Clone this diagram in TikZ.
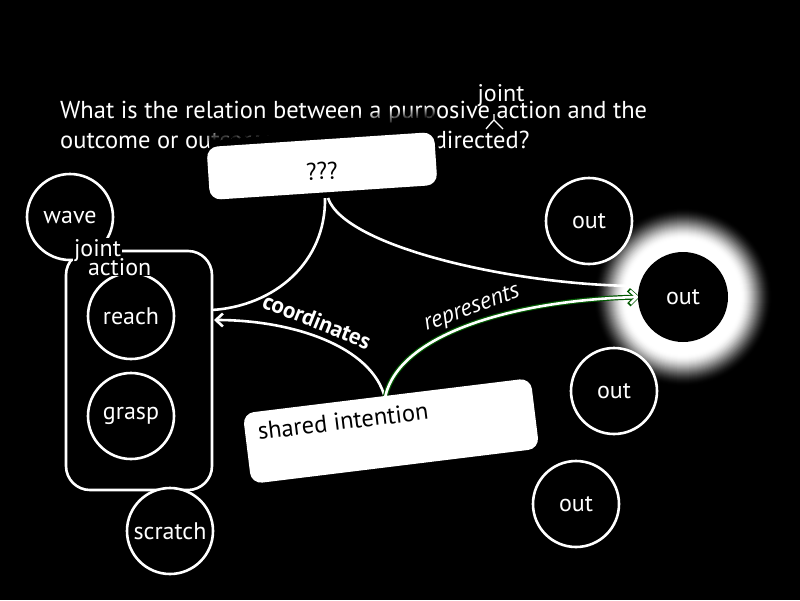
\documentclass[tikz,border=0pt]{standalone}
\usepackage{fontspec}
\setmainfont{PT Sans}
\usetikzlibrary{arrows.meta}
\tikzset{
  txt/.style={text=white, inner sep=0pt, font=\fontsize{24.5}{28}\selectfont},
  circ/.style={circle, draw=white, line width=2.6pt, fill=black, text=white,
    minimum size=86pt, inner sep=0pt, font=\fontsize{24}{28}\selectfont},
  card/.style={fill=white, rounded corners=11pt, inner sep=0pt},
  link/.style={draw=white, line width=2.6pt},
  tip/.style={-{Straight Barb[length=7pt,width=13pt,line width=2.6pt]}},
  lbl/.style={text=white, inner sep=0pt},
  tag/.style={fill=black, text=white, inner sep=0.8pt, font=\fontsize{24}{28}\selectfont},
}
\begin{document}
\begin{tikzpicture}[x=1pt,y=-1pt]
\fill[black] (0,0) rectangle (800,600);
\useasboundingbox (0,0) rectangle (800,600);

% question
\node[txt, anchor=base west] (q1) at (60,118) {What is the relation between a purposive action and the};
\node[txt, anchor=base west] (q2) at (60,148) {outcome or outcomes to which it is directed?};
\node[txt, anchor=base, font=\fontsize{24}{28}\selectfont] (jw) at (501,101) {joint};
\draw[white, line width=1.3pt] (494,114) -- (494,120)
  (486,129) .. controls (491,123) .. (494,120) .. controls (497,123) .. (503,129);

% soft dark band fading the question above the ??? card
\begin{scope}[shift={(322,166)}, rotate=6]
  \foreach \k in {0,...,11} {
    \pgfmathsetmacro\op{(\k+1)/12}
    \fill[black, fill opacity=\op] (-110,-48+\k) rectangle (118,-47+\k);
  }
  \fill[black] (-110,-36.2) rectangle (118,0);
\end{scope}

% glow behind the highlighted outcome
\foreach \r in {90,89,...,46} {
  \pgfmathsetmacro\t{min(1,(90-\r)/32)}
  \pgfmathsetmacro\p{100*\t*\t*(3-2*\t)}
  \fill[white!\p!black] (683,297) circle[radius=\r pt];
}

% connectors
\coordinate (qa) at (325,198);
\coordinate (qb) at (328,198);
\coordinate (sa) at (385,398);
\coordinate (jr) at (212,310);
\coordinate (ja) at (214,320);
\draw[link] (qa) .. controls (326,262) and (275,306) .. (jr);
\draw[link] (qb) .. controls (345,248) and (520,286) .. (640,286);
\draw[link, tip] (sa) .. controls (372,346) and (292,320) .. (ja);
\draw[draw=green!35!black, line width=5pt, -{Straight Barb[length=8pt,width=15pt,line width=4.6pt]}]
  (sa) .. controls (398,332) and (520,300) .. (640,297);
\draw[link, tip] (sa) .. controls (398,332) and (520,300) .. (639,297);

\node[lbl, rotate=-22, font=\fontsize{23}{26}\selectfont\bfseries] (lc) at (317,321) {coordinates};
\node[lbl, rotate=20, font=\fontsize{24}{28}\selectfont\itshape] (lr) at (472,309) {represents};

% cards
\node[card, rotate=3.8, minimum width=228pt, minimum height=53pt] (qq) at (322,166) {};
\node[text=black, rotate=3.8, font=\fontsize{24}{28}\selectfont] (qt) at (322,171) {???};
\node[card, rotate=7, minimum width=290pt, minimum height=71pt] (si) at (391,431) {};
\node[text=black, rotate=7, font=\fontsize{24.5}{28}\selectfont, inner sep=0pt] (st) at (343,421) {shared intention};

% joint action group
\node[draw=white, line width=2.6pt, rounded corners=24pt, minimum width=146pt,
  minimum height=239pt] (ja-box) at (139,370.5) {};

% actions
\node[circ] (wave) at (70,217) {wave};
\node[circ] (reach) at (131,316) {reach};
\node[circ] (grasp) at (131,416) {grasp};
\node[circ] (scratch) at (170,531) {scratch};
\node[tag, anchor=base west] (jl1) at (73,256) {joint};
\node[tag, anchor=base west] (jl2) at (87,275) {action};

% outcomes
\node[circ] (o1) at (589,221) {out};
\node[circ, draw=none, minimum size=90pt] (o2) at (683,297) {out};
\node[circ] (o3) at (614,391) {out};
\node[circ] (o4) at (576,504) {out};
\end{tikzpicture}
\end{document}
